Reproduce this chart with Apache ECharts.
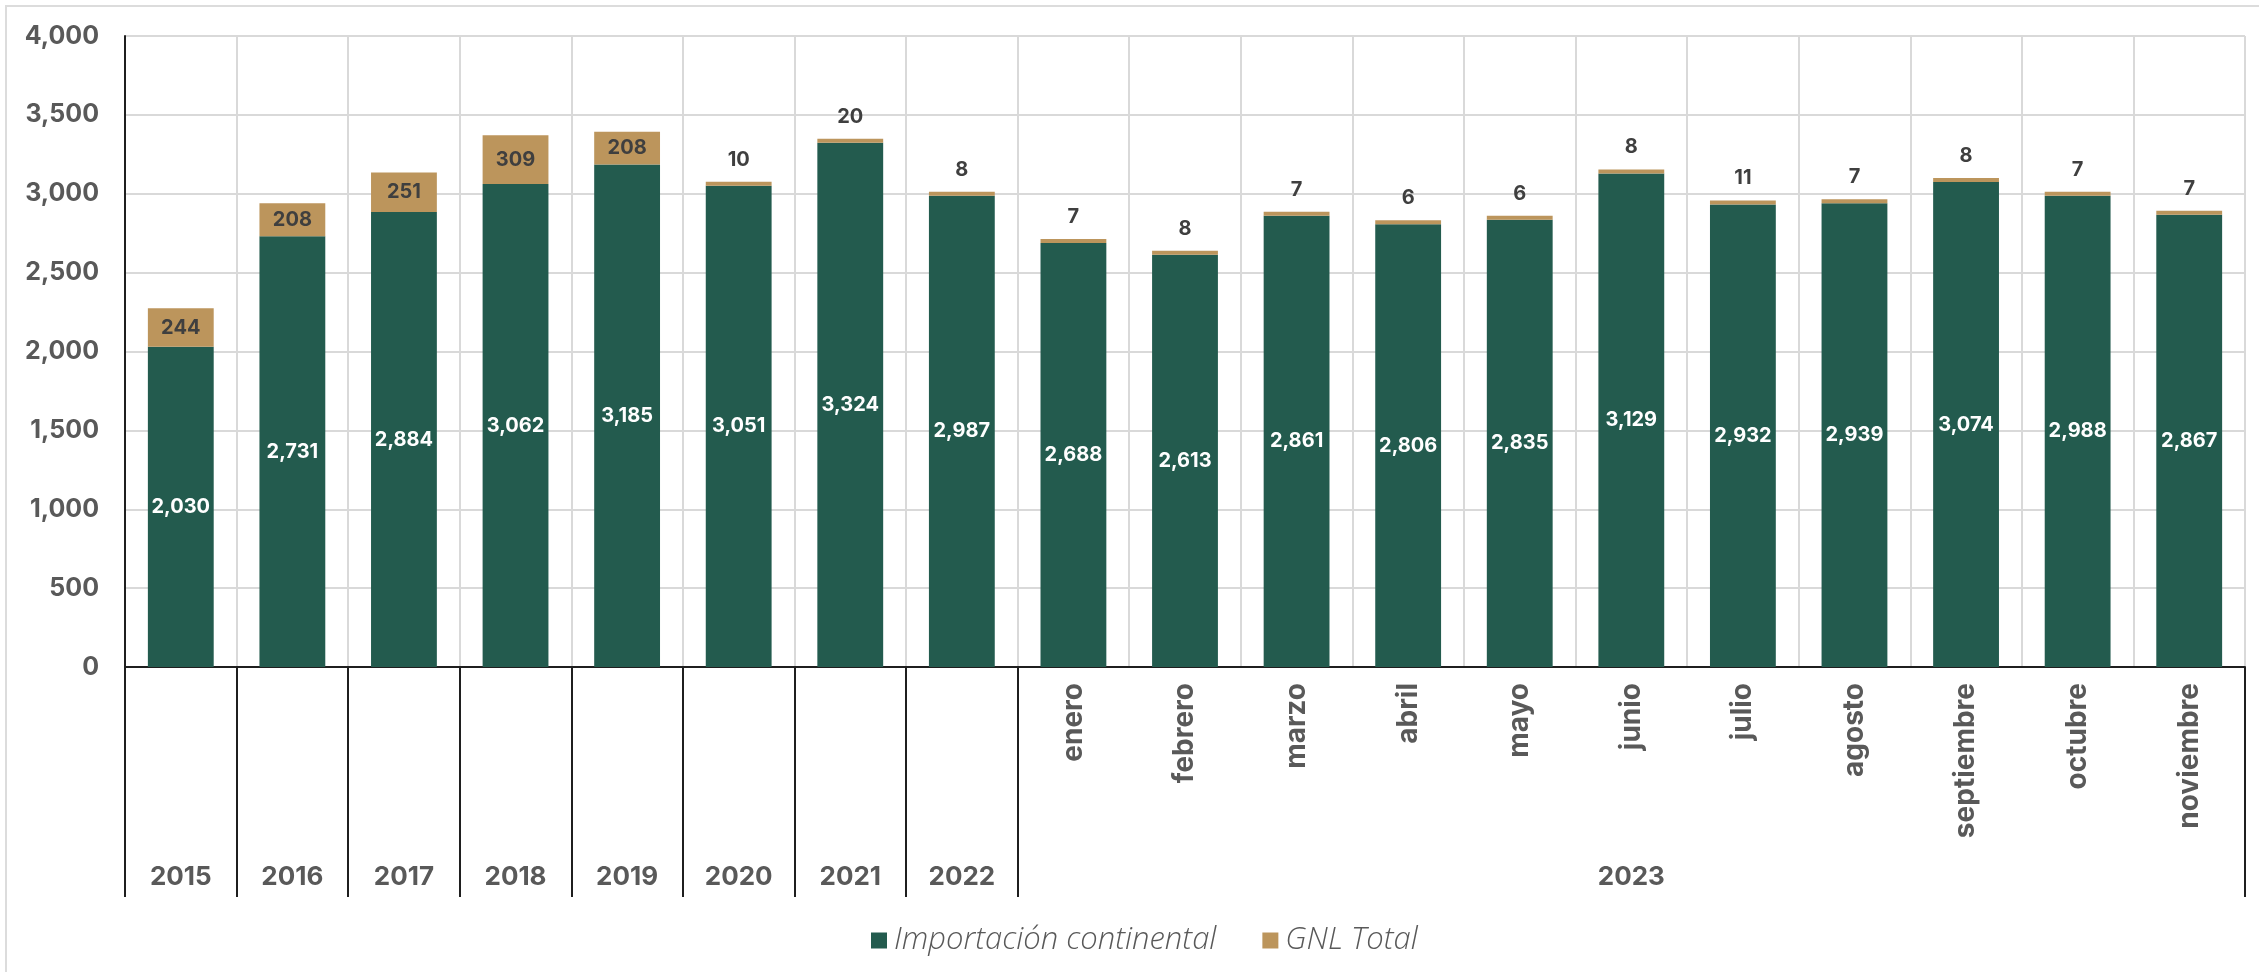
<!DOCTYPE html>
<html><head><meta charset="utf-8">
<script src="https://cdn.jsdelivr.net/npm/echarts@6/dist/echarts.min.js"></script>
<style>html,body{margin:0;padding:0;background:#fff}#c{width:2259px;height:972px}</style>
</head><body><div id="c"></div>
<script>
const categories = ['2015','2016','2017','2018','2019','2020','2021','2022','enero','febrero','marzo','abril','mayo','junio','julio','agosto','septiembre','octubre','noviembre'];
const groupLabels = ['2015','2016','2017','2018','2019','2020','2021','2022','','','','','','2023','','','','',''];
const firstMonthIndex = 8;
const importacion = [2030, 2731, 2884, 3062, 3185, 3051, 3324, 2987, 2688, 2613, 2861, 2806, 2835, 3129, 2932, 2939, 3074, 2988, 2867];
const gnlTotal = [244, 208, 251, 309, 208, 10, 20, 8, 7, 8, 7, 6, 6, 8, 11, 7, 8, 7, 7];
const yMin = 0, yMax = 4000, yStep = 500;

const FONT = 'Inter';
const fmt = v => Number(v).toLocaleString('en-US');
const chart = echarts.init(document.getElementById('c'));
chart.setOption({
  backgroundColor: '#ffffff',
  animation: false,
  textStyle: { fontFamily: FONT },
  graphic: [{ type: 'rect', shape: { x: 6, y: 6, width: 2270, height: 990 }, style: { fill: 'none', stroke: '#dcdcdc', lineWidth: 2 }, z: -1 }],
  grid: { left: 125, right: 14, top: 36, bottom: 305 },
  legend: {
    left: 866, top: 920, itemWidth: 16, itemHeight: 16, itemGap: 46, icon: 'rect',
    textStyle: { fontFamily: 'Open Sans', fontStyle: 'italic', fontWeight: 300, fontSize: 31, color: '#595959', padding: [0, 0, 0, 2] },
    data: ['Importación continental', 'GNL Total']
  },
  xAxis: [{
    type: 'category', data: categories, position: 'bottom',
    axisLine: { show: true, lineStyle: { color: '#1f1f1f', width: 2 } },
    axisTick: { show: false },
    splitLine: { show: true, interval: 0, lineStyle: { color: '#d9d9d9', width: 2 } },
    axisLabel: { interval: 0, rotate: 90, margin: 16, fontSize: 28, fontWeight: 700, color: '#595959', fontFamily: FONT,
      formatter: (v, i) => i >= firstMonthIndex ? v : '' }
  }, {
    type: 'category', data: groupLabels, position: 'bottom', gridIndex: 0,
    axisLine: { show: false },
    axisTick: { show: true, length: 230, interval: (i) => i <= firstMonthIndex, lineStyle: { color: '#1f1f1f', width: 2 } },
    splitLine: { show: false },
    axisLabel: { interval: 0, margin: 197, fontSize: 26, fontWeight: 700, color: '#595959', fontFamily: FONT }
  }],
  yAxis: {
    type: 'value', min: yMin, max: yMax, interval: yStep,
    axisLine: { show: true, lineStyle: { color: '#1f1f1f', width: 2 } },
    axisTick: { show: false },
    splitLine: { show: true, lineStyle: { color: '#d9d9d9', width: 2 } },
    axisLabel: { margin: 26, fontSize: 25, fontWeight: 700, color: '#595959', fontFamily: FONT, formatter: fmt }
  },
  series: [{
    name: 'Importación continental', type: 'bar', stack: 'total', barWidth: '59%', xAxisIndex: 0,
    itemStyle: { color: '#235B4E' },
    label: { show: true, position: 'inside', color: '#ffffff', fontWeight: 700, fontSize: 20, fontFamily: FONT, formatter: p => fmt(p.value) },
    data: importacion
  }, {
    name: 'GNL Total', type: 'bar', stack: 'total', barWidth: '59%', xAxisIndex: 0, barMinHeight: 4,
    itemStyle: { color: '#BC955C' },
    label: { show: true, color: '#3f3f3f', fontWeight: 700, fontSize: 20, fontFamily: FONT, distance: 12, formatter: p => fmt(p.value) },
    data: gnlTotal.map(v => ({ value: v, label: { position: v > 100 ? 'inside' : 'top' } }))
  }]
});
</script></body></html>
